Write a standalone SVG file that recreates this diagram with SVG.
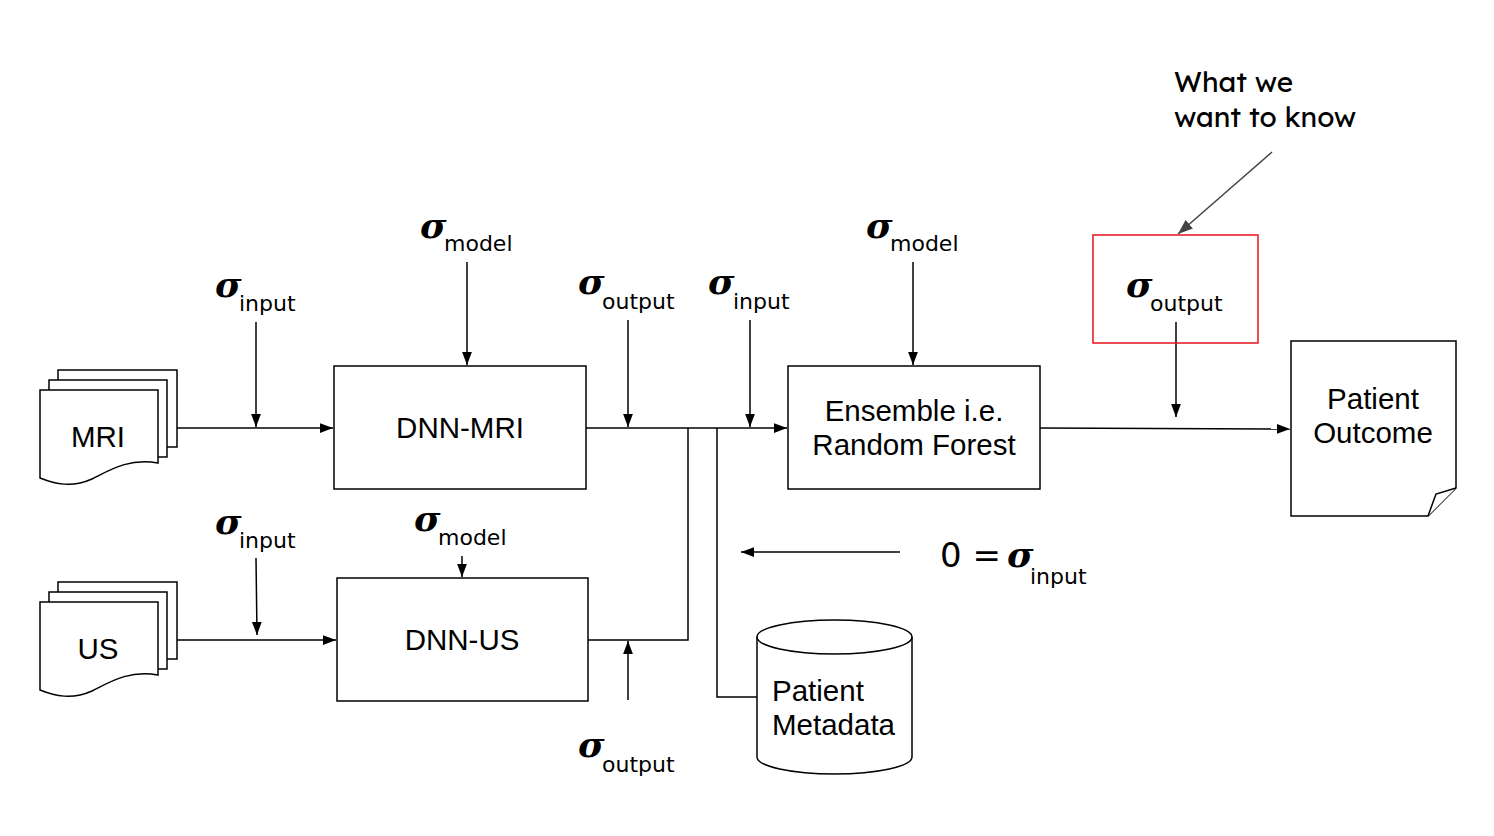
<svg xmlns="http://www.w3.org/2000/svg" width="1494" height="836" viewBox="0 0 1494 836">
<defs>
<marker id="ah" viewBox="0 0 12 10" refX="12" refY="5" markerWidth="13" markerHeight="11" markerUnits="userSpaceOnUse" orient="auto"><path d="M0,0.5 L12,5 L0,9.5 z" fill="#000"/></marker>
<marker id="ahg" viewBox="0 0 12 10" refX="12" refY="5" markerWidth="15" markerHeight="13" markerUnits="userSpaceOnUse" orient="auto"><path d="M0,0.5 L12,5 L0,9.5 z" fill="#444"/></marker>
</defs>
<style>
.box{fill:#fff;stroke:#000;stroke-width:1.5}
.doc{fill:#fff;stroke:#000;stroke-width:1.5}
.ln{fill:none;stroke:#000;stroke-width:1.5}
.arr{fill:none;stroke:#000;stroke-width:1.5;marker-end:url(#ah)}
.t{font-family:"Liberation Sans",Arial,sans-serif;font-size:29.5px;fill:#000}
.sig{font-family:"DejaVu Serif",serif;font-weight:bold;font-style:italic;font-size:36px;fill:#000}
.sub{font-family:"DejaVu Sans",sans-serif;font-size:22px;fill:#000}
.note{font-family:"Lexend","Inter","DejaVu Sans",sans-serif;font-size:28px;fill:#000}
</style>
<rect width="1494" height="836" fill="#fff"/>

<g id="connectors">
<line class="arr" x1="177" y1="428" x2="333" y2="428"/>
<line class="arr" x1="256" y1="322" x2="256" y2="427"/>
<line class="arr" x1="467" y1="262" x2="467" y2="365"/>
<line class="ln" x1="586" y1="428" x2="700" y2="428"/>
<line class="arr" x1="700" y1="428" x2="787" y2="428"/>
<line class="arr" x1="628" y1="320" x2="628" y2="427"/>
<line class="arr" x1="750" y1="320" x2="750" y2="427"/>
<polyline class="ln" points="588,640 688,640 688,428"/>
<polyline class="ln" points="757,697 717,697 717,428"/>
<line class="arr" x1="628" y1="700" x2="628" y2="641"/>
<line class="arr" x1="913" y1="262" x2="913" y2="365"/>
<line class="arr" x1="1040" y1="428" x2="1290" y2="429"/>
<line class="arr" x1="1176" y1="322" x2="1176" y2="417"/>
<line class="arr" x1="177" y1="640" x2="336" y2="640"/>
<line class="arr" x1="256" y1="558" x2="257" y2="635"/>
<line class="arr" x1="462" y1="556" x2="462" y2="577"/>
<line class="arr" x1="900" y1="552" x2="741" y2="552"/>
<line x1="1272" y1="152" x2="1178" y2="234" stroke="#444" stroke-width="1.5" marker-end="url(#ahg)"/>
</g>

<g id="mri">
<rect class="doc" x="58" y="370" width="119" height="77"/>
<rect class="doc" x="49" y="380" width="118" height="77"/>
<path class="doc" d="M40,390 H158 V463 C128,458 110,470 92,479 C72,488 55,484 40,478 Z"/>
<text class="t" x="98" y="447" text-anchor="middle">MRI</text>
</g>

<g id="us">
<rect class="doc" x="58" y="582" width="119" height="77"/>
<rect class="doc" x="49" y="592" width="118" height="77"/>
<path class="doc" d="M40,602 H158 V675 C128,670 110,682 92,691 C72,700 55,696 40,690 Z"/>
<text class="t" x="98" y="659" text-anchor="middle">US</text>
</g>

<g id="dnn-mri">
<rect class="box" x="334" y="366" width="252" height="123"/>
<text class="t" x="460" y="438" text-anchor="middle">DNN-MRI</text>
</g>

<g id="dnn-us">
<rect class="box" x="337" y="578" width="251" height="123"/>
<text class="t" x="462" y="650" text-anchor="middle">DNN-US</text>
</g>

<g id="ensemble">
<rect class="box" x="788" y="366" width="252" height="123"/>
<text class="t" x="914" y="421" text-anchor="middle">Ensemble i.e.</text>
<text class="t" x="914" y="455" text-anchor="middle">Random Forest</text>
</g>

<g id="outcome">
<path class="doc" d="M1291,341 H1456 V488 L1428,516 H1291 Z"/>
<path class="doc" d="M1456,488 L1436,494 L1428,516"/>
<text class="t" x="1373" y="409" text-anchor="middle">Patient</text>
<text class="t" x="1373" y="443" text-anchor="middle">Outcome</text>
</g>

<g id="metadata">
<path class="doc" d="M757,637 A77.5,17 0 0 1 912,637 V757 A77.5,17 0 0 1 757,757 Z"/>
<path class="ln" d="M757,637 A77.5,17 0 0 0 912,637"/>
<text class="t" x="772" y="701">Patient</text>
<text class="t" x="772" y="735">Metadata</text>
</g>

<g id="sigma-output-target">
<rect x="1093" y="235" width="165" height="108" fill="none" stroke="#e8141c" stroke-width="1.5"/>
<text class="sig" x="1126" y="297">σ</text>
<text class="sub" x="1150" y="311">output</text>
</g>

<g id="labels">
<text class="sig" x="215" y="297">σ</text><text class="sub" x="239" y="311">input</text>
<text class="sig" x="420" y="238">σ</text><text class="sub" x="444" y="251">model</text>
<text class="sig" x="578" y="294">σ</text><text class="sub" x="602" y="309">output</text>
<text class="sig" x="708" y="294">σ</text><text class="sub" x="733" y="309">input</text>
<text class="sig" x="866" y="238">σ</text><text class="sub" x="890" y="251">model</text>
<text class="sig" x="215" y="534">σ</text><text class="sub" x="239" y="548">input</text>
<text class="sig" x="414" y="531">σ</text><text class="sub" x="438" y="545">model</text>
<text class="sig" x="578" y="757">σ</text><text class="sub" x="602" y="772">output</text>
<text class="sub" x="940" y="567" style="font-size:34px">0 =</text>
<text class="sig" x="1007" y="567">σ</text><text class="sub" x="1030" y="584">input</text>
<text class="note" x="1174" y="92">What we</text>
<text class="note" x="1174" y="127">want to know</text>
</g>
</svg>
